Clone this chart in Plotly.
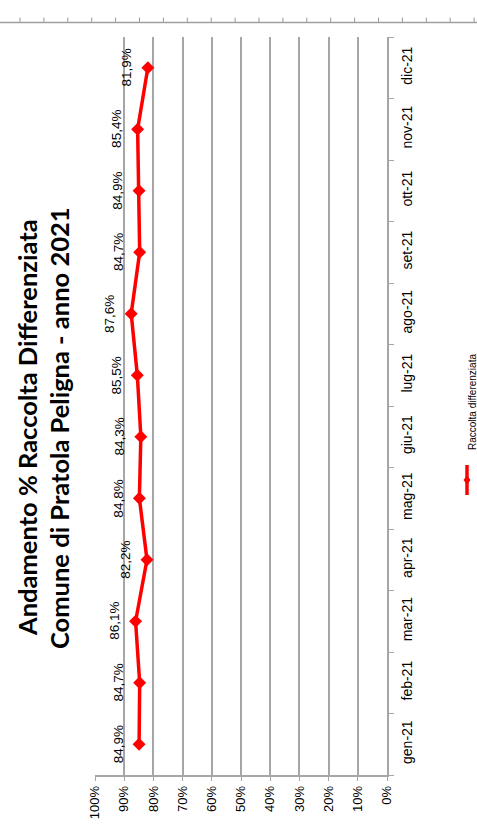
import plotly.graph_objects as go

months = ["gen-21", "feb-21", "mar-21", "apr-21", "mag-21", "giu-21",
          "lug-21", "ago-21", "set-21", "ott-21", "nov-21", "dic-21"]
values = [0.849, 0.847, 0.861, 0.822, 0.848, 0.843,
          0.855, 0.876, 0.847, 0.849, 0.854, 0.819]
series_name = "Raccolta differenziata"
title_lines = ["Andamento % Raccolta Differenziata",
               "Comune di Pratola Peligna - anno 2021"]

W, H = 477, 832
L, R, T, B = 95, 387, 37, 775  # plot area in pixels

def px(xp):
    return (xp - L) / (R - L)

def py(yp):
    return (B - yp) / (B - T)

grid = "#a6a6a6"
font = "Liberation Sans"

fig = go.Figure()
fig.add_trace(go.Scatter(
    x=values, y=months, mode="lines+markers", name=series_name,
    line=dict(color="#ff0000", width=3.5),
    marker=dict(symbol="diamond", size=10, color="#ff0000"),
    showlegend=False,
))

annotations = []
for m, v in zip(months, values):
    annotations.append(dict(
        x=v, y=m, xref="x", yref="y", text=f"{v*100:.1f}%".replace(".", ","),
        showarrow=False, textangle=-90, xshift=-21,
        font=dict(family=font, size=13.5, color="#000000"),
    ))

title_x = [27, 59]
for t, xx in zip(title_lines, title_x):
    annotations.append(dict(
        x=px(xx), y=py(428), xref="paper", yref="paper", text=f"<b>{t}</b>",
        showarrow=False, textangle=-90, xanchor="center", yanchor="middle",
        font=dict(family="Lato", size=25.5, color="#000000"),
    ))

# legend text
annotations.append(dict(
    x=px(472), y=py(402), xref="paper", yref="paper", text=series_name,
    showarrow=False, textangle=-90, xanchor="center", yanchor="middle",
    font=dict(family=font, size=10, color="#000000"),
))

shapes = []
# legend key
shapes.append(dict(type="line", xref="paper", yref="paper",
                   x0=px(467), x1=px(467), y0=py(465), y1=py(495),
                   line=dict(color="#ff0000", width=3.5)))
shapes.append(dict(type="path", xref="paper", yref="paper",
                   path=f"M {px(467)} {py(475.5)} L {px(470.5)} {py(480)} L {px(467)} {py(484.5)} L {px(463.5)} {py(480)} Z",
                   fillcolor="#ff0000", line=dict(color="#ff0000", width=0)))
# page ruler at top
shapes.append(dict(type="line", xref="paper", yref="paper",
                   x0=px(0), x1=px(477), y0=py(22.5), y1=py(22.5),
                   line=dict(color="#a0a0a0", width=1.5)))
for i in range(20):
    xt = 20 + i * 23.9
    shapes.append(dict(type="line", xref="paper", yref="paper",
                       x0=px(xt), x1=px(xt), y0=py(22), y1=py(17.5),
                       line=dict(color="#999999", width=1)))

fig.update_layout(
    width=W, height=H,
    margin=dict(l=L, r=W - R, t=T, b=H - B, pad=0),
    paper_bgcolor="#ffffff", plot_bgcolor="#ffffff",
    showlegend=False,
    annotations=annotations, shapes=shapes,
    xaxis=dict(
        range=[1, 0], tickformat=".0%", dtick=0.1, tick0=0,
        tickangle=-90, showgrid=True, gridcolor=grid, gridwidth=1.5,
        showline=True, linecolor=grid, linewidth=1.5,
        ticks="outside", ticklen=4, tickcolor=grid,
        zeroline=False, mirror=False,
        tickfont=dict(family=font, size=13, color="#000000"),
    ),
    yaxis=dict(
        type="category", categoryorder="array", categoryarray=months,
        side="right", tickson="boundaries", ticks="outside", ticklen=5,
        tickcolor=grid, showline=True, linecolor=grid, linewidth=1.5,
        showgrid=False, zeroline=False, tickangle=-90,
        range=[-0.5, 11.5], ticklabelstandoff=6,
        tickfont=dict(family=font, size=14, color="#000000"),
    ),
)

fig.write_html("out.html", config={"displayModeBar": False},
               post_script="document.body.style.margin='0';document.body.style.padding='0';")
